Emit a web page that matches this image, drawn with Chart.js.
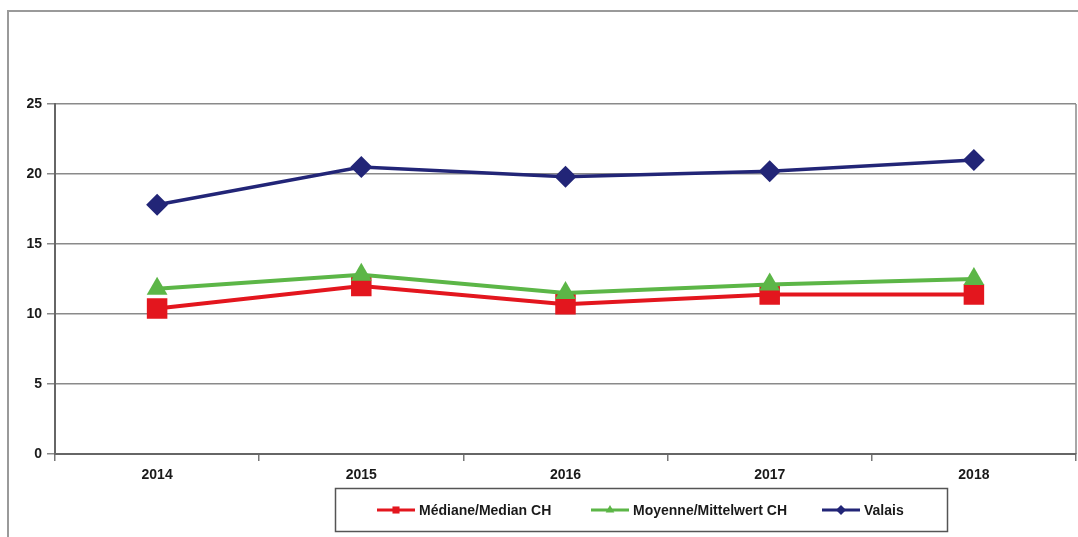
<!DOCTYPE html>
<html>
<head>
<meta charset="utf-8">
<script src="https://cdn.jsdelivr.net/npm/chart.js@4.4.1/dist/chart.umd.min.js"></script>
<style>
  html, body { margin: 0; padding: 0; background: #fff; }
  #wrap { width: 1078px; height: 537px; position: relative; }
</style>
</head>
<body>
<div id="wrap"><canvas id="chart" width="1078" height="537"></canvas></div>
<script>
// data
var years = ['2014', '2015', '2016', '2017', '2018'];
var medianCH = [10.4, 12.0, 10.7, 11.4, 11.4];
var meanCH = [11.8, 12.8, 11.5, 12.1, 12.5];
var valais = [17.8, 20.5, 19.8, 20.2, 21.0];
var yTicks = [0, 5, 10, 15, 20, 25];
var seriesNames = ['Médiane/Median CH', 'Moyenne/Mittelwert CH', 'Valais'];

var FONT = 'Arial, "Liberation Sans", sans-serif';

// outer frame + right border of the plot
var framePlugin = {
    id: 'frame',
    beforeDraw: function(chart) {
        var ctx = chart.ctx;
        var a = chart.chartArea;
        ctx.save();
        ctx.strokeStyle = '#9a9a9a';
        ctx.lineWidth = 2;
        ctx.beginPath();
        ctx.moveTo(8, 537);
        ctx.lineTo(8, 11);
        ctx.lineTo(1078, 11);
        ctx.stroke();
        ctx.strokeStyle = '#8a8a8a';
        ctx.lineWidth = 1.5;
        ctx.beginPath();
        ctx.moveTo(a.right, a.top);
        ctx.lineTo(a.right, a.bottom);
        ctx.stroke();
        ctx.restore();
    }
};

// boxed legend below the axis: line with marker, then label
var legendPlugin = {
    id: 'boxLegend',
    afterDraw: function(chart) {
        var ctx = chart.ctx;
        var itemX = [377, 591, 822];
        var y = 510;
        ctx.save();
        ctx.strokeStyle = '#555';
        ctx.lineWidth = 1.5;
        ctx.strokeRect(335.5, 488.5, 612, 43);
        chart.data.datasets.forEach(function(ds, i) {
            var x0 = itemX[i];
            ctx.strokeStyle = ds.borderColor;
            ctx.lineWidth = 3;
            ctx.beginPath();
            ctx.moveTo(x0, y);
            ctx.lineTo(x0 + 38, y);
            ctx.stroke();
            ctx.fillStyle = ds.borderColor;
            Chart.helpers.drawPoint(ctx, {
                pointStyle: ds.pointStyle,
                radius: 5,
                rotation: 0,
                borderWidth: 0
            }, x0 + 19, y);
            ctx.fillStyle = '#1a1a1a';
            ctx.font = 'bold 14px ' + FONT;
            ctx.textBaseline = 'middle';
            ctx.textAlign = 'left';
            ctx.fillText(ds.label, x0 + 42, y + 1);
        });
        ctx.restore();
    }
};

var ctx = document.getElementById('chart').getContext('2d');
new Chart(ctx, {
    type: 'line',
    data: {
        labels: years,
        datasets: [{
            label: seriesNames[0],
            data: medianCH,
            borderColor: '#e3161e',
            backgroundColor: '#e3161e',
            borderWidth: 4,
            pointStyle: 'rect',
            pointRadius: 14.5,
            pointBorderWidth: 0,
            order: 2
        }, {
            label: seriesNames[1],
            data: meanCH,
            borderColor: '#5cb647',
            backgroundColor: '#5cb647',
            borderWidth: 4,
            pointStyle: 'triangle',
            pointRadius: 12,
            pointBorderWidth: 0,
            order: 1
        }, {
            label: seriesNames[2],
            data: valais,
            borderColor: '#222577',
            backgroundColor: '#222577',
            borderWidth: 3.5,
            pointStyle: 'rectRot',
            pointRadius: 11,
            pointBorderWidth: 0,
            order: 0
        }]
    },
    options: {
        responsive: false,
        animation: false,
        devicePixelRatio: 1,
        layout: {
            autoPadding: false,
            padding: { top: 104, right: 2, left: 0, bottom: 0 }
        },
        plugins: {
            legend: { display: false },
            tooltip: { enabled: false }
        },
        elements: {
            line: { tension: 0 }
        },
        scales: {
            x: {
                offset: true,
                grid: {
                    display: true,
                    drawOnChartArea: false,
                    offset: true,
                    tickLength: 7,
                    color: '#777',
                    lineWidth: 1.5
                },
                border: { display: true, color: '#666', width: 2 },
                ticks: {
                    color: '#1a1a1a',
                    padding: 6,
                    font: { family: FONT, size: 14, weight: 'bold' }
                },
                afterFit: function(scale) {
                    scale.height = 83;
                    scale.paddingLeft = 0;
                    scale.paddingRight = 0;
                }
            },
            y: {
                min: 0,
                max: 25,
                afterBuildTicks: function(scale) {
                    scale.ticks = yTicks.map(function(v) { return { value: v }; });
                },
                grid: {
                    color: '#8a8a8a',
                    lineWidth: 1.5,
                    tickLength: 8
                },
                border: { display: true, color: '#666', width: 2 },
                ticks: {
                    color: '#1a1a1a',
                    padding: 5,
                    font: { family: FONT, size: 14, weight: 'bold' }
                },
                afterFit: function(scale) { scale.width = 55; }
            }
        }
    },
    plugins: [framePlugin, legendPlugin]
});
</script>
</body>
</html>
